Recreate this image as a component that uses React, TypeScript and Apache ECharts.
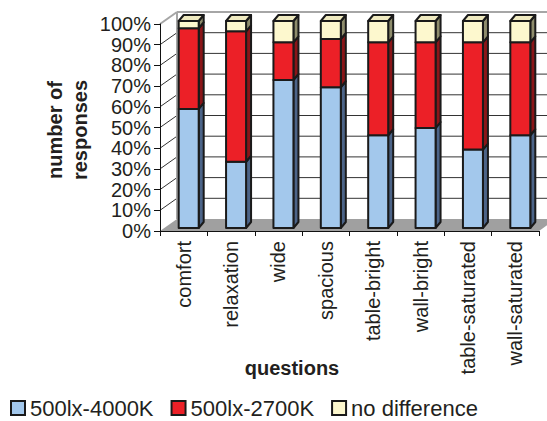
import React, { useEffect, useRef } from "react";
import * as echarts from "echarts";

const categories = ["comfort", "relaxation", "wide", "spacious", "table-bright", "wall-bright", "table-saturated", "wall-saturated"];
const seriesNames = ["500lx-4000K", "500lx-2700K", "no difference"];
const cool = [57.5, 32, 71.5, 68, 44.8, 48.3, 37.9, 44.8];
const warm = [39, 63, 18.2, 23.3, 44.9, 41.4, 51.8, 44.9];
const noDiff = [3.5, 5, 10.3, 8.7, 10.3, 10.3, 10.3, 10.3];
const yTicks = [0, 10, 20, 30, 40, 50, 60, 70, 80, 90, 100];

const FONT = "'Liberation Sans', Arial, sans-serif";
const TXT = "#231f20";
const FRONT = ["#A3C8EC", "#EC2027", "#FDF8CE"];
const SIDE = ["#4C6488", "#8A1518", "#8E8C6C"];
const TOP = ["#8FB4DA", "#C81A20", "#EFEAC0"];
const EDGE = "#1a1a1a";
const DX = 17, DY = -12; // wall depth
const BOX = 5, BOY = -3; // bar offset inside depth
const BW = 20; // bar front width
const BDX = 5, BDY = -6; // bar depth

export default function App() {
  const ref = useRef<HTMLDivElement>(null);
  useEffect(() => {
    if (!ref.current) return;
    const chart = echarts.init(ref.current, null, { renderer: "svg" });
    const values = [cool, warm, noDiff];
    const stacked: number[][][] = [];
    const base = categories.map(() => 0);
    values.forEach((arr) => {
      stacked.push(arr.map((v, i) => {
        const s = base[i];
        base[i] += v;
        return [i, s, base[i]];
      }));
    });

    const wallSeries: any = {
      type: "custom",
      name: "walls",
      z: 1,
      silent: true,
      data: [[0, 0]],
      renderItem: (params: any, api: any) => {
        const cs = params.coordSys;
        const L = cs.x, R = cs.x + cs.width;
        const B = api.coord([0, 0])[1];
        const T = api.coord([0, 100])[1];
        const children: any[] = [];
        children.push({
          type: "polygon",
          shape: { points: [[L, B], [L + DX, B + DY], [R + DX, B + DY], [R, B]] },
          style: { fill: "#A0A0A0", stroke: "none" },
        });
        yTicks.forEach((t) => {
          if (t === 0) return;
          const y = api.coord([0, t])[1];
          const top = t === 100;
          children.push({
            type: "line",
            shape: { x1: L + DX, y1: y + DY, x2: R + DX + 20, y2: y + DY },
            style: { stroke: top ? "#A6A6A6" : "#333", lineWidth: top ? 2 : 1 },
          });
          children.push({
            type: "line",
            shape: { x1: L, y1: y, x2: L + DX, y2: y + DY },
            style: { stroke: top ? "#A6A6A6" : "#333", lineWidth: top ? 2 : 1 },
          });
        });
        children.push({
          type: "line",
          shape: { x1: L + DX, y1: T + DY, x2: L + DX, y2: B + DY },
          style: { stroke: "#A6A6A6", lineWidth: 2 },
        });
        return { type: "group", children };
      },
    };

    const barSeries = stacked.map((data, k) => ({
      type: "custom",
      name: seriesNames[k],
      z: 2,
      itemStyle: { color: FRONT[k], borderColor: EDGE, borderWidth: 2 },
      encode: { x: 0, y: [1, 2] },
      data,
      renderItem: (params: any, api: any) => {
        const i = api.value(0);
        const v0 = api.value(1);
        const v1 = api.value(2);
        const cx = api.coord([i, 0])[0] + BOX;
        const yb = api.coord([i, v0])[1] + BOY;
        const yt = api.coord([i, v1])[1] + BOY;
        const xl = cx - BW / 2, xr = cx + BW / 2;
        const st = { stroke: EDGE, lineWidth: 2, lineJoin: "round" };
        const children: any[] = [
          {
            type: "polygon",
            shape: { points: [[xr, yt], [xr + BDX, yt + BDY], [xr + BDX, yb + BDY], [xr, yb]] },
            style: { ...st, fill: SIDE[k] },
          },
          {
            type: "rect",
            shape: { x: xl, y: yt, width: BW, height: yb - yt },
            style: { ...st, fill: FRONT[k] },
          },
        ];
        if (k === stacked.length - 1) {
          children.push({
            type: "polygon",
            shape: { points: [[xl, yt], [xl + BDX, yt + BDY], [xr + BDX, yt + BDY], [xr, yt]] },
            style: { ...st, fill: TOP[k] },
          });
        }
        return { type: "group", children };
      },
    }));

    chart.setOption({
      animation: false,
      backgroundColor: "#fff",
      grid: { left: 160, top: 24, width: 379, height: 207 },
      xAxis: {
        type: "category",
        data: categories,
        boundaryGap: true,
        z: 3,
        axisLine: { show: true, lineStyle: { color: "#111", width: 1 } },
        axisTick: { show: true, length: 5, lineStyle: { color: "#111" } },
        axisLabel: { rotate: 90, margin: 10, color: TXT, fontSize: 20, fontFamily: FONT, interval: 0 },
        splitLine: { show: false },
      },
      yAxis: {
        type: "value",
        min: 0,
        max: 100,
        interval: 10,
        z: 3,
        axisLine: { show: true, lineStyle: { color: "#111", width: 1 } },
        axisTick: { show: true, length: 6, lineStyle: { color: "#111" } },
        axisLabel: { formatter: "{value}%", margin: 9, color: TXT, fontSize: 20, fontFamily: FONT },
        splitLine: { show: false },
      },
      legend: {
        data: seriesNames,
        left: 5,
        top: 392,
        padding: 5,
        icon: "rect",
        itemWidth: 14,
        itemHeight: 14,
        itemGap: 17,
        textStyle: { color: TXT, fontSize: 22, fontFamily: FONT },
      },
      graphic: [
        {
          type: "text",
          x: 67,
          y: 130,
          rotation: Math.PI / 2,
          style: {
            text: "number of\nresponses",
            align: "center",
            verticalAlign: "middle",
            lineHeight: 25,
            font: `bold 20px ${FONT}`,
            fill: TXT,
          },
        },
        {
          type: "text",
          x: 292,
          y: 368,
          style: {
            text: "questions",
            align: "center",
            verticalAlign: "middle",
            font: `bold 20px ${FONT}`,
            fill: TXT,
          },
        },
      ],
      series: [wallSeries, ...barSeries],
    });
    return () => chart.dispose();
  }, []);
  return <div ref={ref} style={{ position: "absolute", left: 0, top: 0, width: 547, height: 421 }} />;
}
